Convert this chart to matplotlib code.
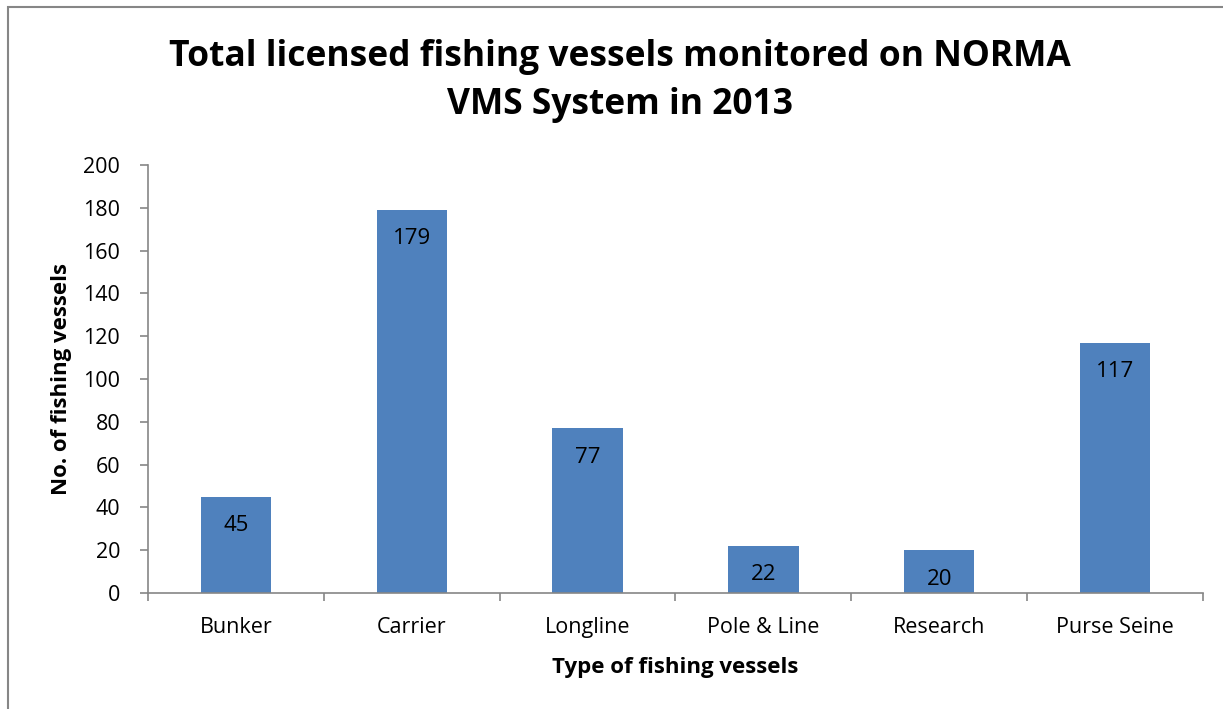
import matplotlib; matplotlib.use("Agg")
import matplotlib.pyplot as plt
from matplotlib.patches import Rectangle

categories = ["Bunker", "Carrier", "Longline", "Pole & Line", "Research", "Purse Seine"]
vessels = [45, 179, 77, 22, 20, 117]
yticks = list(range(0, 201, 20))

BAR = "#4f81bd"
AXC = "#868686"
plt.rcParams["font.family"] = ["Open Sans", "DejaVu Sans"]

W, H = 1223, 709
fig = plt.figure(figsize=(W / 100, H / 100), dpi=100)
fig.patch.set_facecolor("white")

# chart frame, cut off on the right and bottom
fig.patches.append(Rectangle((8 / W, -0.1), 1.2, (709 - 7) / H + 0.1, transform=fig.transFigure,
                             fill=False, edgecolor=AXC, linewidth=1.5))

ax = fig.add_axes([148 / W, (H - 593) / H, (1203 - 148) / W, (593 - 165) / H])
x = range(len(categories))
ax.bar(x, vessels, width=0.4, color=BAR, zorder=2)
for xi, v in zip(x, vessels):
    ax.text(xi, v - 13.5, str(v), ha="center", va="center", fontsize=16, color="black")

ax.set_xlim(-0.5, len(categories) - 0.5)
ax.set_ylim(0, 200)
ax.set_yticks(yticks)
ax.set_yticklabels([str(t) for t in yticks], fontsize=15.5)
ax.set_xticks([i + 0.5 for i in range(-1, len(categories))], minor=False)
ax.set_xticklabels([""] * (len(categories) + 1))
ax.set_xticks(list(x), minor=True)
ax.set_xticklabels(categories, minor=True, fontsize=15.5)
ax.tick_params(axis="x", which="major", length=6, direction="out", color=AXC, width=1.2)
ax.tick_params(axis="x", which="minor", length=0, pad=17)
ax.tick_params(axis="y", length=6, direction="out", color=AXC, width=1.2, pad=14)
for s in ["top", "right"]:
    ax.spines[s].set_visible(False)
for s in ["left", "bottom"]:
    ax.spines[s].set_color(AXC)
    ax.spines[s].set_linewidth(1.2)

ax.set_xlabel("Type of fishing vessels", fontsize=16, fontweight="bold", labelpad=14)
ax.set_ylabel("No. of fishing vessels", fontsize=16, fontweight="bold", labelpad=8)

fig.text(620 / W, 1 - 57 / H, "Total licensed fishing vessels monitored on NORMA",
         ha="center", va="center", fontsize=25.5, fontweight="bold")
fig.text(620 / W, 1 - 105 / H, "VMS System in 2013",
         ha="center", va="center", fontsize=25.5, fontweight="bold")

fig.savefig("out.png", dpi=100)
